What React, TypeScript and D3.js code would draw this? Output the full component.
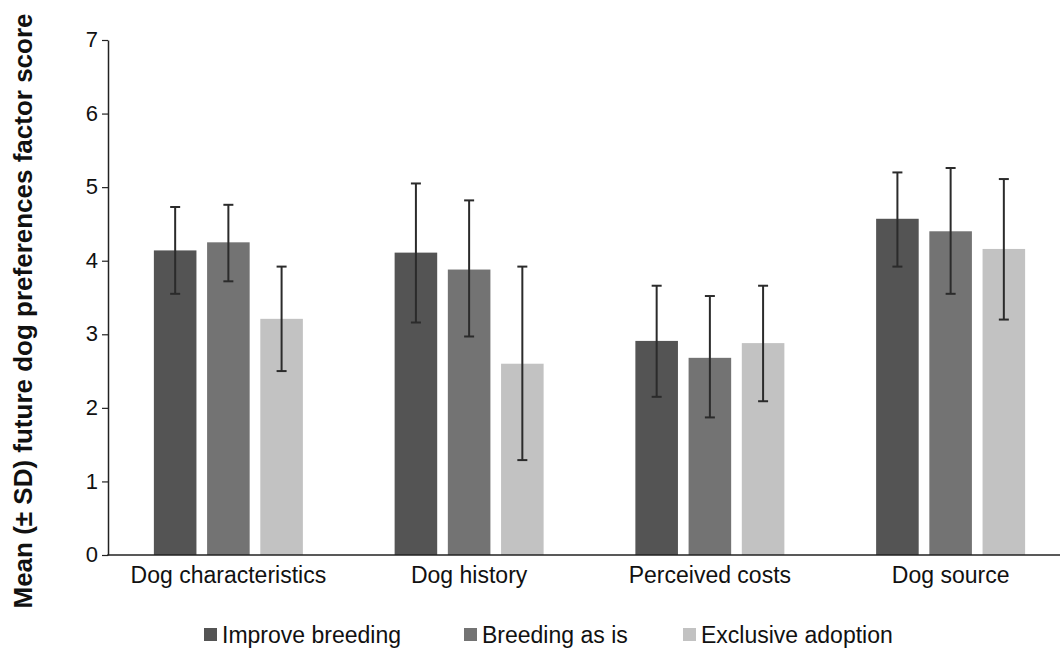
import { useEffect, useRef } from 'react';
import * as d3 from 'd3';

// Factor categories on the x axis
const categories = ['Dog characteristics', 'Dog history', 'Perceived costs', 'Dog source'];

// Groups (legend order)
const groups = ['Improve breeding', 'Breeding as is', 'Exclusive adoption'];
const groupColors = ['#545454', '#737373', '#c2c2c2'];

// Means per group, one value per category
const improveMeans = [4.14, 4.11, 2.91, 4.57];
const asIsMeans = [4.25, 3.88, 2.68, 4.40];
const adoptionMeans = [3.21, 2.60, 2.88, 4.16];

// Error bar ends (mean ± SD)
const improveLow = [3.55, 3.16, 2.15, 3.92];
const improveHigh = [4.73, 5.05, 3.66, 5.20];
const asIsLow = [3.72, 2.97, 1.87, 3.55];
const asIsHigh = [4.76, 4.82, 3.52, 5.26];
const adoptionLow = [2.50, 1.29, 2.09, 3.20];
const adoptionHigh = [3.92, 3.92, 3.66, 5.11];

const yTicks = [0, 1, 2, 3, 4, 5, 6, 7];

export default function App() {
  const svgRef = useRef<SVGSVGElement>(null);

  useEffect(() => {
    if (!svgRef.current) return;
    const svg = d3.select(svgRef.current);
    svg.selectAll('*').remove();

    const width = 1060;
    const height = 648;
    const left = 108;
    const bottom = 555;
    const top = 40;

    const means = [improveMeans, asIsMeans, adoptionMeans];
    const lows = [improveLow, asIsLow, adoptionLow];
    const highs = [improveHigh, asIsHigh, adoptionHigh];

    const x = d3.scaleBand<string>()
      .domain(categories)
      .range([left, left + 963]);

    const xInner = d3.scaleBand<string>()
      .domain(groups)
      .range([-74.5, 74.5])
      .paddingInner(0.2)
      .paddingOuter(0);

    const y = d3.scaleLinear().domain([0, 7]).range([bottom, top]);

    const font = 'Liberation Sans, Arial, sans-serif';

    // bars
    const g = svg.append('g');
    categories.forEach((cat, ci) => {
      const cx = (x(cat) ?? 0) + x.bandwidth() / 2;
      groups.forEach((grp, gi) => {
        const bx = cx + (xInner(grp) ?? 0);
        const v = means[gi][ci];
        g.append('rect')
          .attr('x', bx)
          .attr('y', y(v))
          .attr('width', xInner.bandwidth())
          .attr('height', y(0) - y(v))
          .attr('fill', groupColors[gi]);

        // error bar
        const ex = bx + xInner.bandwidth() / 2;
        const lo = y(lows[gi][ci]);
        const hi = y(highs[gi][ci]);
        const eb = g.append('g')
          .attr('stroke', '#2b2b2b')
          .attr('stroke-width', 2);
        eb.append('line').attr('x1', ex).attr('x2', ex).attr('y1', lo).attr('y2', hi);
        eb.append('line').attr('x1', ex - 5).attr('x2', ex + 5).attr('y1', lo).attr('y2', lo);
        eb.append('line').attr('x1', ex - 5).attr('x2', ex + 5).attr('y1', hi).attr('y2', hi);
      });
    });

    // y axis
    const yAxis = svg.append('g')
      .attr('transform', `translate(${left},0)`)
      .call(d3.axisLeft(y).tickValues(yTicks).tickFormat(d3.format('d')).tickSize(6).tickSizeOuter(0).tickPadding(4));
    yAxis.select('.domain').attr('stroke', '#222').attr('stroke-width', 1.5);
    yAxis.selectAll('.tick line').attr('stroke', '#222').attr('stroke-width', 1.2);
    yAxis.selectAll('.tick text')
      .attr('font-family', font)
      .attr('font-size', 22)
      .attr('dy', '0.3em')
      .attr('fill', '#111');

    // x axis
    svg.append('line')
      .attr('x1', left - 0.75)
      .attr('x2', width)
      .attr('y1', bottom)
      .attr('y2', bottom)
      .attr('stroke', '#222')
      .attr('stroke-width', 1.5);

    const xAxis = svg.append('g')
      .attr('transform', `translate(0,${bottom})`)
      .call(d3.axisBottom(x).tickSize(0).tickPadding(12));
    xAxis.select('.domain').remove();
    xAxis.selectAll('.tick text')
      .attr('font-family', font)
      .attr('font-size', 23)
      .attr('fill', '#111');

    // y axis title
    svg.append('text')
      .attr('transform', `translate(32,${311}) rotate(-90)`)
      .attr('text-anchor', 'middle')
      .attr('font-family', font)
      .attr('font-size', 26)
      .attr('font-weight', 'bold')
      .attr('fill', '#111')
      .text('Mean (± SD) future dog preferences factor score');

    // legend
    const legendX = [204, 464, 683];
    const legend = svg.append('g');
    groups.forEach((grp, gi) => {
      legend.append('rect')
        .attr('x', legendX[gi])
        .attr('y', 628)
        .attr('width', 13)
        .attr('height', 13)
        .attr('fill', groupColors[gi]);
      legend.append('text')
        .attr('x', legendX[gi] + 18)
        .attr('y', 643)
        .attr('font-family', font)
        .attr('font-size', 23)
        .attr('fill', '#111')
        .text(grp);
    });

    svg.attr('width', width).attr('height', height);
  }, []);

  return (
    <div style={{ position: 'absolute', left: 0, top: 0, background: '#fff' }}>
      <svg ref={svgRef} width={1060} height={648} style={{ display: 'block' }}></svg>
    </div>
  );
}
